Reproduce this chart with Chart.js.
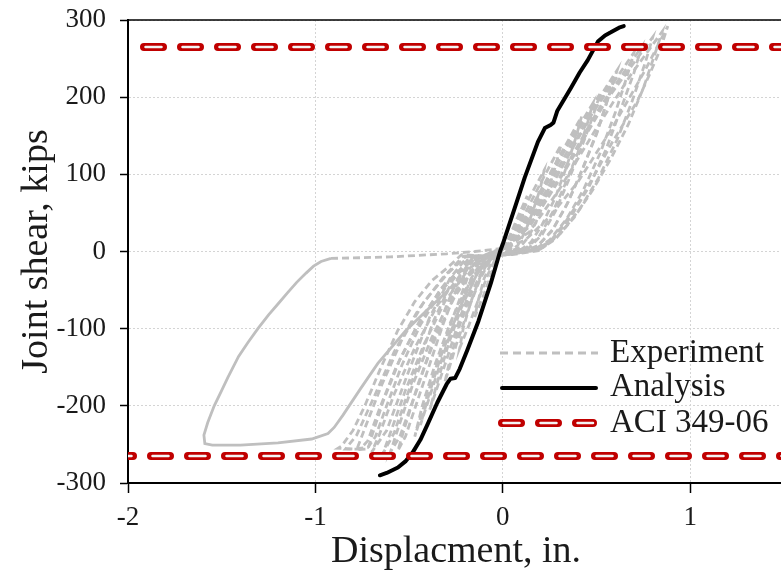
<!DOCTYPE html>
<html>
<head>
<meta charset="utf-8">
<script src="https://cdn.jsdelivr.net/npm/chart.js@4.4.0/dist/chart.umd.min.js"></script>
<style>
  html, body { margin: 0; padding: 0; background: #fff; overflow: hidden; }
  #wrap { position: relative; width: 790px; height: 580px; }
</style>
</head>
<body>
<div id="wrap"><canvas id="chart"></canvas></div>
<script>
// axis ranges / ticks
const xMin = -2, xMax = 1.5, xStep = 1
const yMin = -300, yMax = 300, yStep = 100
const aciLimit = 265

// Analysis curve [displacement, shear]
const analysis = [
  [-0.656, -290], [-0.62, -287], [-0.56, -280], [-0.52, -272], [-0.48, -260], [-0.44, -244],
  [-0.40, -223], [-0.35, -196], [-0.30, -172], [-0.28, -165], [-0.255, -164], [-0.23, -152],
  [-0.19, -128], [-0.13, -90], [-0.064, -41], [-0.015, 0], [0.0, 10], [0.064, 57], [0.117, 96],
  [0.187, 142], [0.224, 160], [0.255, 164], [0.27, 167], [0.29, 182], [0.363, 212], [0.41, 232],
  [0.453, 248], [0.507, 272], [0.545, 280], [0.576, 284], [0.62, 290], [0.645, 292]
]

// Experiment cycles [displacement, shear]
const cycle1 = [[0, 3], [0.04, 22], [0.08, 45], [0.13, 72], [0.11, 52], [0.08, 28], [0.05, 10], [0.02, 2],
  [-0.02, -4], [-0.06, -28], [-0.10, -55], [-0.15, -85], [-0.13, -62], [-0.10, -35], [-0.06, -14], [-0.02, -2], [0, 3]]
const cycle2 = [[0, 3], [0.05, 25], [0.10, 50], [0.16, 78], [0.22, 105], [0.20, 82], [0.16, 52], [0.12, 26], [0.08, 8], [0.04, 1],
  [-0.03, -4], [-0.08, -30], [-0.13, -62], [-0.18, -95], [-0.23, -125], [-0.21, -98], [-0.17, -65], [-0.12, -32], [-0.07, -10], [-0.02, -1], [0, 3]]
const cycle3 = [[0, 3], [0.06, 25], [0.13, 55], [0.22, 97], [0.31, 138], [0.28, 110], [0.24, 78], [0.19, 45], [0.14, 20], [0.09, 5],
  [0, -3], [-0.06, -8], [-0.12, -35], [-0.18, -72], [-0.25, -122], [-0.31, -170], [-0.28, -138], [-0.23, -95], [-0.17, -55], [-0.10, -20], [-0.04, -3], [0, 4]]
const cycle4 = [[0, 4], [0.08, 28], [0.17, 65], [0.29, 118], [0.42, 175], [0.39, 148], [0.34, 110], [0.28, 70], [0.21, 35], [0.15, 12], [0.10, 3],
  [0, -3], [-0.09, -8], [-0.15, -35], [-0.22, -80], [-0.30, -140], [-0.39, -205], [-0.35, -170], [-0.29, -120], [-0.22, -72], [-0.14, -30], [-0.06, -6], [0, 4]]
const cycle5 = [[0, 4], [0.09, 28], [0.20, 72], [0.35, 140], [0.52, 205], [0.48, 175], [0.42, 135], [0.35, 92], [0.28, 52], [0.21, 22], [0.14, 5],
  [0, -4], [-0.12, -8], [-0.19, -35], [-0.27, -88], [-0.37, -160], [-0.47, -240], [-0.43, -200], [-0.36, -145], [-0.28, -92], [-0.19, -45], [-0.10, -12], [0, 4]]
const cycle5b = [[0, 4], [0.09, 30], [0.19, 72], [0.33, 132], [0.48, 192], [0.45, 165], [0.40, 128], [0.33, 86], [0.26, 48], [0.19, 18], [0.12, 4],
  [0, -3], [-0.10, -8], [-0.17, -35], [-0.25, -85], [-0.34, -150], [-0.44, -225], [-0.40, -190], [-0.33, -135], [-0.25, -85], [-0.17, -40], [-0.08, -10], [0, 4]]
const cycle6 = [[0, 5], [0.10, 28], [0.23, 78], [0.41, 160], [0.61, 235], [0.57, 205], [0.51, 160], [0.43, 110], [0.35, 65], [0.27, 30], [0.19, 8], [0.13, 2],
  [0, -4], [-0.15, -8], [-0.23, -38], [-0.32, -95], [-0.43, -175], [-0.52, -240], [-0.56, -258], [-0.52, -225], [-0.45, -170], [-0.36, -112],
  [-0.26, -60], [-0.15, -20], [-0.05, -2], [0.01, 5]]
const cycle6b = [[0.01, 4], [0.11, 26], [0.25, 80], [0.42, 158], [0.60, 228], [0.56, 198], [0.50, 152], [0.42, 104], [0.34, 60], [0.26, 26], [0.18, 6], [0.12, 1],
  [0, -4], [-0.16, -7], [-0.25, -40], [-0.35, -100], [-0.46, -180], [-0.55, -240], [-0.60, -260], [-0.56, -230], [-0.48, -172], [-0.38, -112],
  [-0.27, -58], [-0.15, -18], [-0.04, -1], [0.01, 4]]
const cycle7 = [[0.01, 5], [0.12, 30], [0.27, 90], [0.48, 180], [0.70, 258], [0.66, 225], [0.60, 180], [0.52, 128], [0.43, 80], [0.34, 42], [0.25, 15], [0.17, 3],
  [0.02, -4], [-0.18, -8], [-0.27, -38], [-0.37, -90], [-0.48, -165], [-0.58, -235], [-0.64, -262], [-0.60, -235], [-0.52, -180], [-0.42, -120],
  [-0.31, -65], [-0.18, -22], [-0.06, -2], [0.01, 5]]
const cycle7b = [[0.02, 5], [0.14, 32], [0.30, 95], [0.52, 188], [0.74, 265], [0.70, 232], [0.63, 185], [0.55, 132], [0.46, 84], [0.36, 44], [0.27, 16], [0.18, 3],
  [0.02, -4], [-0.19, -7], [-0.28, -34], [-0.39, -85], [-0.51, -160], [-0.62, -232], [-0.70, -260], [-0.66, -238], [-0.58, -185], [-0.47, -125],
  [-0.35, -70], [-0.21, -25], [-0.07, -2], [0.02, 5]]
const cycle8 = [[0.02, 5], [0.15, 35], [0.32, 100], [0.55, 195], [0.80, 278], [0.76, 245], [0.69, 195], [0.61, 145], [0.51, 95], [0.41, 55], [0.31, 24],
  [0.22, 6], [0.16, 1], [0.02, -4], [-0.20, -7], [-0.30, -30], [-0.42, -65], [-0.54, -115], [-0.65, -175], [-0.73, -225], [-0.78, -257],
  [-0.72, -256], [-0.70, -240], [-0.64, -195], [-0.55, -140], [-0.44, -88], [-0.31, -42], [-0.17, -12], [-0.04, 0], [0.02, 5]]
const cycle8b = [[0.02, 5], [0.14, 25], [0.30, 80], [0.50, 160], [0.68, 228], [0.85, 285], [0.81, 255], [0.75, 212], [0.67, 165], [0.58, 122], [0.48, 80],
  [0.38, 44], [0.28, 16], [0.20, 3], [0.03, -4], [-0.21, -6], [-0.32, -34], [-0.45, -75], [-0.58, -130], [-0.69, -190], [-0.78, -238], [-0.84, -256],
  [-0.76, -256], [-0.72, -245], [-0.66, -205], [-0.57, -150], [-0.46, -98], [-0.33, -48], [-0.19, -14], [-0.05, 0], [0.02, 5]]
const cycle9 = [[0.02, 5], [0.12, 15], [0.25, 45], [0.40, 90], [0.576, 157], [0.757, 234], [0.88, 292], [0.84, 262], [0.78, 228], [0.72, 196],
  [0.65, 168], [0.58, 140], [0.50, 104], [0.41, 66], [0.33, 37], [0.256, 14], [0.19, 1], [0.05, -4], [-0.10, -6], [-0.22, -4],
  [-0.30, -22], [-0.38, -38], [-0.47, -65], [-0.56, -102], [-0.65, -150], [-0.74, -202], [-0.80, -232], [-0.86, -252], [-0.88, -255],
  [-0.80, -256], [-0.72, -254], [-0.68, -240], [-0.62, -200], [-0.54, -148], [-0.44, -95], [-0.32, -48], [-0.18, -15], [-0.05, 0], [0.05, 5]]
const finalStart = [[0.05, 3], [-0.05, -8], [-0.15, -25], [-0.29, -50]]
const finalLoop = [[-0.29, -50], [-0.40, -75], [-0.52, -103], [-0.667, -145], [-0.76, -178], [-0.853, -212], [-0.90, -228], [-0.933, -236],
  [-1.02, -243], [-1.20, -248], [-1.40, -251], [-1.55, -251], [-1.59, -249], [-1.595, -238], [-1.575, -222], [-1.54, -200], [-1.50, -180],
  [-1.467, -163], [-1.41, -136], [-1.36, -118], [-1.307, -100], [-1.25, -82], [-1.20, -68], [-1.147, -53], [-1.10, -40], [-1.05, -28],
  [-1.01, -19], [-0.97, -13], [-0.917, -9]]
const finalSlip = [[-0.917, -9], [-0.75, -8], [-0.60, -7], [-0.45, -5], [-0.30, -3], [-0.15, 0], [0, 4]]

const serif = '"Liberation Serif", "Times New Roman", serif'
const grey = '#bfbfbf'
const red = '#c00000'

const toPts = arr => arr.map(p => ({ x: p[0], y: p[1] }))

const expSet = (pts, dashed) => ({
  data: toPts(pts),
  showLine: true,
  pointRadius: 0,
  borderColor: grey,
  borderWidth: 2.8,
  borderDash: dashed ? [7, 4] : [],
  borderCapStyle: 'butt',
  order: 3
})

const aciSets = (val, offset) => [
  {
    data: [{ x: xMin, y: val }, { x: xMax, y: val }],
    showLine: true, pointRadius: 0,
    borderColor: '#f4f4f4', borderWidth: 2.5,
    borderDash: [16, 21], borderDashOffset: offset - 1.5, borderCapStyle: 'round',
    order: 0
  },
  {
    data: [{ x: xMin, y: val }, { x: xMax, y: val }],
    showLine: true, pointRadius: 0,
    borderColor: red, borderWidth: 8,
    borderDash: [19, 18], borderDashOffset: offset, borderCapStyle: 'round',
    order: 1
  }
]

const datasets = [
  ...aciSets(aciLimit, 21),
  ...aciSets(-aciLimit, 14),
  {
    data: toPts(analysis),
    showLine: true, pointRadius: 0,
    borderColor: '#000', borderWidth: 4,
    borderCapStyle: 'round', borderJoinStyle: 'round',
    order: 2
  },
  expSet(cycle1, true), expSet(cycle2, true), expSet(cycle3, true),
  expSet(cycle4, true), expSet(cycle5, true), expSet(cycle5b, true),
  expSet(cycle6, true), expSet(cycle6b, true), expSet(cycle7, true),
  expSet(cycle7b, true), expSet(cycle8, true), expSet(cycle8b, true), expSet(cycle9, true),
  expSet(finalStart, true), expSet(finalLoop, false), expSet(finalSlip, true)
]

// top frame line + legend drawn inside the plot
const legendPlugin = {
  id: 'legendPlugin',
  afterDraw(chart) {
    const ctx = chart.ctx
    const a = chart.chartArea
    ctx.save()
    ctx.strokeStyle = '#000'
    ctx.lineWidth = 1.5
    ctx.beginPath()
    ctx.moveTo(a.left, a.top)
    ctx.lineTo(a.right, a.top)
    ctx.stroke()

    // Experiment
    ctx.strokeStyle = grey
    ctx.lineWidth = 3
    ctx.setLineDash([8, 5])
    ctx.beginPath(); ctx.moveTo(500, 353); ctx.lineTo(598, 353); ctx.stroke()
    // Analysis
    ctx.setLineDash([])
    ctx.strokeStyle = '#000'
    ctx.lineWidth = 4
    ctx.lineCap = 'round'
    ctx.beginPath(); ctx.moveTo(502, 388); ctx.lineTo(596, 388); ctx.stroke()
    // ACI 349-06
    ctx.strokeStyle = red
    ctx.lineWidth = 8
    ctx.setLineDash([19, 18])
    ctx.beginPath(); ctx.moveTo(502, 423); ctx.lineTo(593, 423); ctx.stroke()
    ctx.strokeStyle = '#f4f4f4'
    ctx.lineWidth = 2.5
    ctx.setLineDash([16, 21])
    ctx.beginPath(); ctx.moveTo(503.5, 423); ctx.lineTo(593, 423); ctx.stroke()
    ctx.setLineDash([])

    ctx.fillStyle = '#1a1a1a'
    ctx.font = '33px ' + serif
    ctx.textBaseline = 'middle'
    ctx.textAlign = 'left'
    ctx.fillText('Experiment', 610, 353)
    ctx.fillText('Analysis', 610, 387)
    ctx.fillText('ACI 349-06', 610, 423)
    ctx.restore()
  }
}

new Chart(document.getElementById('chart'), {
  type: 'scatter',
  data: { datasets: datasets },
  options: {
    responsive: true,
    maintainAspectRatio: false,
    animation: false,
    layout: { padding: { left: 0, top: 20, right: 6, bottom: 0 } },
    plugins: { legend: { display: false }, tooltip: { enabled: false } },
    scales: {
      x: {
        type: 'linear',
        min: xMin, max: xMax,
        ticks: {
          stepSize: xStep, includeBounds: false, color: '#1a1a1a', padding: 9,
          font: { family: serif, size: 27 }
        },
        grid: { color: '#d4d4d4', lineWidth: 1, tickColor: '#000', tickLength: 10, tickWidth: 1.5 },
        border: { color: '#000', width: 2, dash: [2, 2] },
        title: {
          display: true, text: 'Displacment, in.', color: '#1a1a1a',
          font: { family: serif, size: 38 }, padding: { top: 0, bottom: 5 }
        },
        afterFit(scale) { scale.height = 97 }
      },
      y: {
        type: 'linear',
        min: yMin, max: yMax,
        ticks: {
          stepSize: yStep, color: '#1a1a1a', padding: 14,
          font: { family: serif, size: 27 }
        },
        grid: { color: '#d4d4d4', lineWidth: 1, tickColor: '#000', tickLength: 8, tickWidth: 1.5 },
        border: { color: '#000', width: 2, dash: [2, 2] },
        title: {
          display: true, text: 'Joint shear, kips', color: '#1a1a1a',
          font: { family: serif, size: 38 }, padding: { top: 14, bottom: 0 }
        },
        afterFit(scale) {
          scale.width = 128
          scale.paddingTop = 10
          scale.paddingBottom = 10
        }
      }
    }
  },
  plugins: [legendPlugin]
})
</script>
</body>
</html>
